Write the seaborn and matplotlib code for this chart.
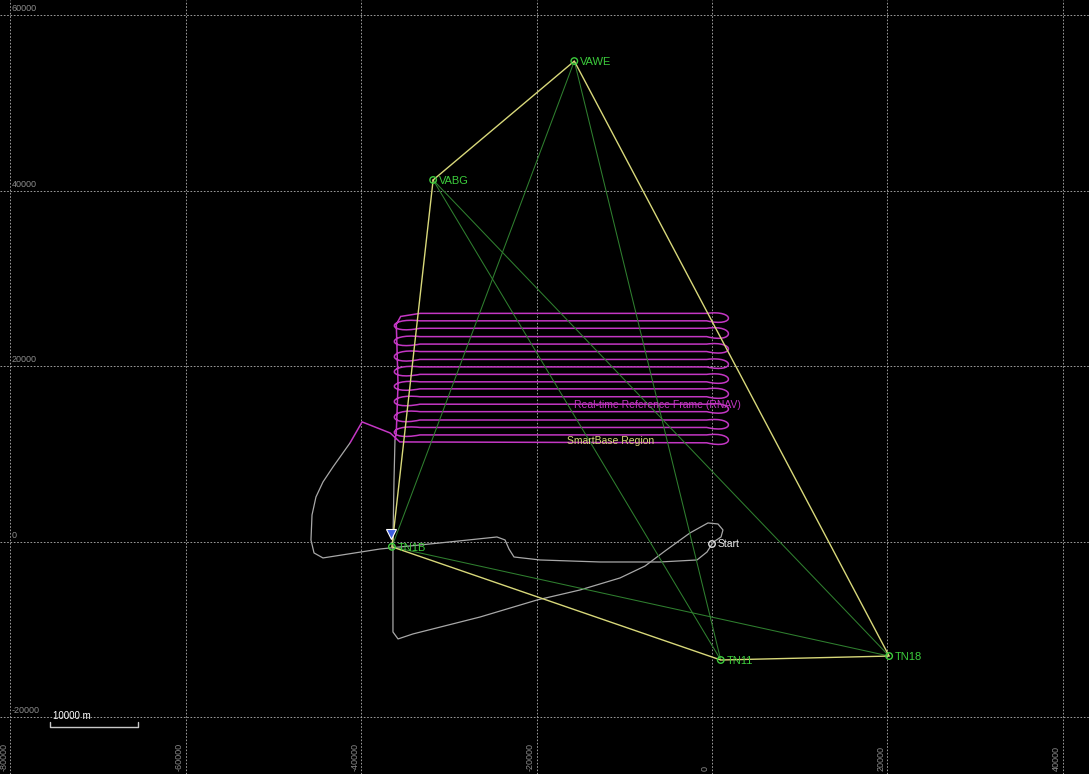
import matplotlib
matplotlib.use("Agg")
import matplotlib.pyplot as plt
from matplotlib.path import Path
from matplotlib.patches import PathPatch
import seaborn as sns

sns.set_style("dark")
plt.rcParams["font.family"] = ["Liberation Sans", "DejaVu Sans"]

# reference stations (metres, local grid)
station_names = ["VAWE", "VABG", "TN1B", "TN11", "TN18"]
station_x = [-15700, -31800, -36500, 1000, 20200]
station_y = [54800, 41250, -550, -13450, -13000]

start_x = [0]
start_y = [-230]

# aircraft marker near TN1B
flag_x = [-36600]
flag_y = [900]

# SmartBase region outline and baselines (by station name)
region_order = ["VABG", "VAWE", "TN18", "TN11", "TN1B", "VABG"]
baselines = [("VAWE", "TN1B"), ("VAWE", "TN11"), ("VABG", "TN11"),
             ("VABG", "TN18"), ("TN1B", "TN18")]

# survey flight lines (north to south)
line_y = [26050, 25200, 24350, 23400, 22550, 21700, 20800, 19950, 19100,
          18250, 17450, 16550, 15700, 14850, 13900, 13050, 12200, 11300]
line_x_west = -33300
line_x_east = -600
turn_reach_west = 3900
turn_reach_east = 3300

# magenta entry into the block and exit down the west side
entry_x = [-41280, -39900, -36700, -35600]
entry_y = [11280, 13680, 12420, 11400]
exit_x = [-35500, -36000, -35800, -36000, -36150]
exit_y = [25700, 24800, 18000, 12500, 11620]

# grey trajectory: outbound from Start, then return leg to Start
outbound_x = [0, -570, -1710, -5930, -12770, -19610, -22580, -23150, -23600,
              -24520, -31020, -37860, -44360, -45380, -45730, -45610, -45160,
              -44360, -43220, -41850, -41280]
outbound_y = [-230, -1140, -2050, -2280, -2280, -2050, -1710, -800, 230,
              570, -110, -800, -1820, -1250, 230, 3080, 5130, 6840, 8550,
              10480, 11280]
return_x = [-36150, -36260, -36380, -36380, -36380, -35800, -34100, -26450,
            -19950, -15050, -10490, -7640, -5360, -2510, -460, 680, 1250,
            1030, 340, 0]
return_y = [11620, 7070, 230, -6610, -10260, -11050, -10480, -8550, -6610,
            -5470, -4100, -2740, -1030, 1030, 2170, 2050, 1370, 570, 110, -230]

x_ticks = [-80000, -60000, -40000, -20000, 0, 20000, 40000]
y_ticks = [-20000, 0, 20000, 40000, 60000]

scale_len = 10000
scale_x0 = -75500
scale_y0 = -21080

GREY = "#a8a8a8"
GREEN_LINE = "#2f7f2f"
GREEN_TEXT = "#3ccc3c"
YELLOW = "#d8d87a"
MAGENTA = "#c437c4"

fig = plt.figure(figsize=(10.89, 7.74), dpi=100, facecolor="black")
ax = fig.add_axes([0, 0, 1, 1])
ax.set_facecolor("black")
ax.set_xlim(-81190, 42990)
ax.set_ylim(-26440, 61760)
for s in ax.spines.values():
    s.set_visible(False)

ax.set_xticks(x_ticks)
ax.set_yticks(y_ticks)
ax.tick_params(length=0, labelbottom=False, labelleft=False)
ax.grid(True, color="#b4b4b4", linestyle=(0, (2, 2)), linewidth=0.6)

# tick labels drawn inside the frame
for v in y_ticks:
    ax.annotate(str(v), (0.0105, v), xycoords=ax.get_yaxis_transform(),
                xytext=(0, 1.5), textcoords="offset points", ha="left",
                va="bottom", fontsize=6.5, color="#8c8c8c")
for v in x_ticks:
    ax.annotate(str(v), (v, 0.004), xycoords=ax.get_xaxis_transform(),
                xytext=(-1.5, 0), textcoords="offset points", rotation=90,
                ha="right", va="bottom", fontsize=6.5, color="#8c8c8c")

# grey trajectory
for tx, ty in [(outbound_x, outbound_y), (return_x, return_y)]:
    sns.lineplot(x=tx, y=ty, sort=False, estimator=None, color=GREY, lw=0.9,
                 ax=ax, zorder=2)

# magenta survey pattern
verts = list(zip(entry_x, entry_y))
codes = [Path.MOVETO] + [Path.LINETO] * (len(entry_x) - 1)
ys = line_y[::-1]
for i, y in enumerate(ys):
    east = i % 2 == 0
    x_end = line_x_east if east else line_x_west
    verts.append((x_end, y))
    codes.append(Path.LINETO)
    if i + 1 < len(ys):
        y_next = ys[i + 1]
        gap = y_next - y
        reach = turn_reach_east if east else -turn_reach_west
        verts += [(x_end + reach, y - 0.9 * gap),
                  (x_end + reach, y_next + 0.5 * gap),
                  (x_end, y_next)]
        codes += [Path.CURVE4] * 3
verts += list(zip(exit_x, exit_y))
codes += [Path.LINETO] * len(exit_x)
ax.add_patch(PathPatch(Path(verts, codes), fill=False, edgecolor=MAGENTA,
                       lw=1.1, zorder=3))

pos = {n: (x, y) for n, x, y in zip(station_names, station_x, station_y)}

# baselines
for a, b in baselines:
    ax.plot([pos[a][0], pos[b][0]], [pos[a][1], pos[b][1]],
            color=GREEN_LINE, lw=0.75, zorder=4)

# SmartBase region
ax.plot([pos[n][0] for n in region_order], [pos[n][1] for n in region_order],
        color=YELLOW, lw=1.0, zorder=5)

# stations
sns.scatterplot(x=station_x, y=station_y, marker="o", s=22, facecolor="none",
                edgecolor=GREEN_TEXT, linewidth=1.0, ax=ax, zorder=6)
for n, x, y in zip(station_names, station_x, station_y):
    ax.annotate(n, (x, y), xytext=(4, -1), textcoords="offset points",
                ha="left", va="center", fontsize=8, color=GREEN_TEXT,
                zorder=7)

sns.scatterplot(x=start_x, y=start_y, marker="o", s=22, facecolor="none",
                edgecolor="#dcdcdc", linewidth=1.0, ax=ax, zorder=6)
ax.annotate("Start", (start_x[0], start_y[0]), xytext=(4, 0),
            textcoords="offset points", ha="left", va="center", fontsize=7.5,
            color="#e6e6e6", zorder=7)

ax.plot(flag_x, flag_y, marker="v", ms=7, color="#3f5fe0",
        markeredgecolor="white", markeredgewidth=0.8, zorder=7)

ax.text(-15750, 15600, "Real-time Reference Frame (RNAV)", color=MAGENTA,
        fontsize=7.5, ha="left", va="center", zorder=8)
ax.text(-16530, 11500, "SmartBase Region", color=YELLOW, fontsize=7.5,
        ha="left", va="center", zorder=8)

# scale bar
ax.plot([scale_x0, scale_x0, scale_x0 + scale_len, scale_x0 + scale_len],
        [scale_y0 + 570, scale_y0, scale_y0, scale_y0 + 570],
        color="#c8c8c8", lw=1.0, zorder=8)
ax.text(scale_x0 + 340, scale_y0 + 910, "10000 m", color="white",
        fontsize=7, ha="left", va="baseline", zorder=8)

ax.set_xlabel("")
ax.set_ylabel("")
fig.savefig("out.png", dpi=100, facecolor="black")
